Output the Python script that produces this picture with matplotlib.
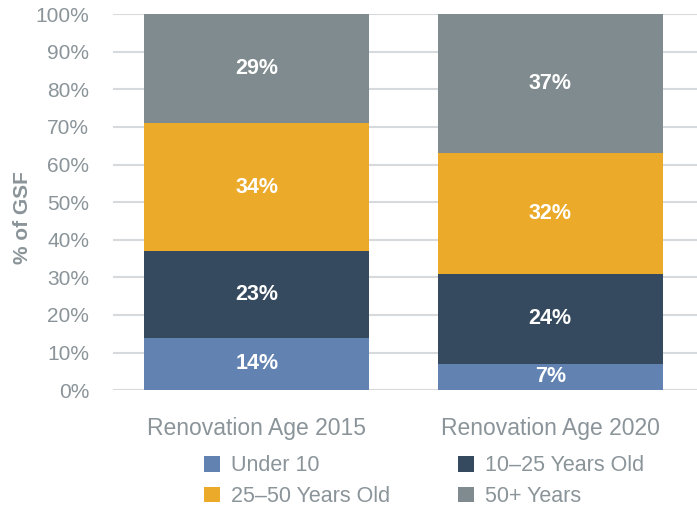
import numpy as np
import matplotlib.pyplot as plt
from matplotlib.patches import Patch

plt.rcParams['font.family'] = ['Liberation Sans', 'DejaVu Sans']

categories = ["Renovation Age 2015", "Renovation Age 2020"]
series = ["Under 10", "10\u201325 Years Old", "25\u201350 Years Old", "50+ Years"]
values = {
    "Under 10": [14, 7],
    "10\u201325 Years Old": [23, 24],
    "25\u201350 Years Old": [34, 32],
    "50+ Years": [29, 37],
}
colors = ["#6283B1", "#364A5F", "#EBAA2A", "#7F8B8E"]
yticks = np.arange(0, 101, 10)

txt = "#8A9499"
fig = plt.figure(figsize=(6.97, 5.08), dpi=100)
ax = fig.add_axes([0.162, 0.232, 0.838, 0.740])

x = np.arange(len(categories))
bottom = np.zeros(len(categories))
for name, c in zip(series, colors):
    v = np.array(values[name])
    ax.bar(x, v, bottom=bottom, width=0.765, color=c, zorder=3)
    for xi, b, vi in zip(x, bottom, v):
        ax.text(xi, b + vi / 2, f"{vi}%", ha="center", va="center",
                color="white", fontsize=15.5, fontweight="bold", zorder=4)
    bottom += v

ax.set_xlim(-0.49, 1.50)
ax.set_ylim(0, 100)
ax.set_yticks(yticks)
ax.set_yticklabels([f"{t}%" for t in yticks])
ax.set_xticks(x)
ax.set_xticklabels(categories)
ax.yaxis.grid(True, color="#D6DADD", linewidth=1.5, zorder=0)
ax.tick_params(axis="y", length=0, pad=17, labelsize=15, labelcolor=txt)
ax.tick_params(axis="x", length=0, pad=19, labelsize=16.5, labelcolor=txt)
for s in ax.spines.values():
    s.set_visible(False)
ax.set_ylabel("% of GSF", fontsize=15, color=txt, fontweight="bold")
ax.yaxis.set_label_coords(-0.138, 0.46)

handles = [Patch(facecolor=c, label=n) for n, c in zip(series, colors)]
order = [0, 2, 1, 3]
fig.legend([handles[i] for i in order], [series[i] for i in order],
           ncol=2, loc="center", bbox_to_anchor=(0.608, 0.053), frameon=False,
           fontsize=15.5, labelcolor=txt, handlelength=0.75, handleheight=0.75,
           handletextpad=0.5, columnspacing=3.15, labelspacing=0.45)

fig.savefig("out.png", dpi=100)
